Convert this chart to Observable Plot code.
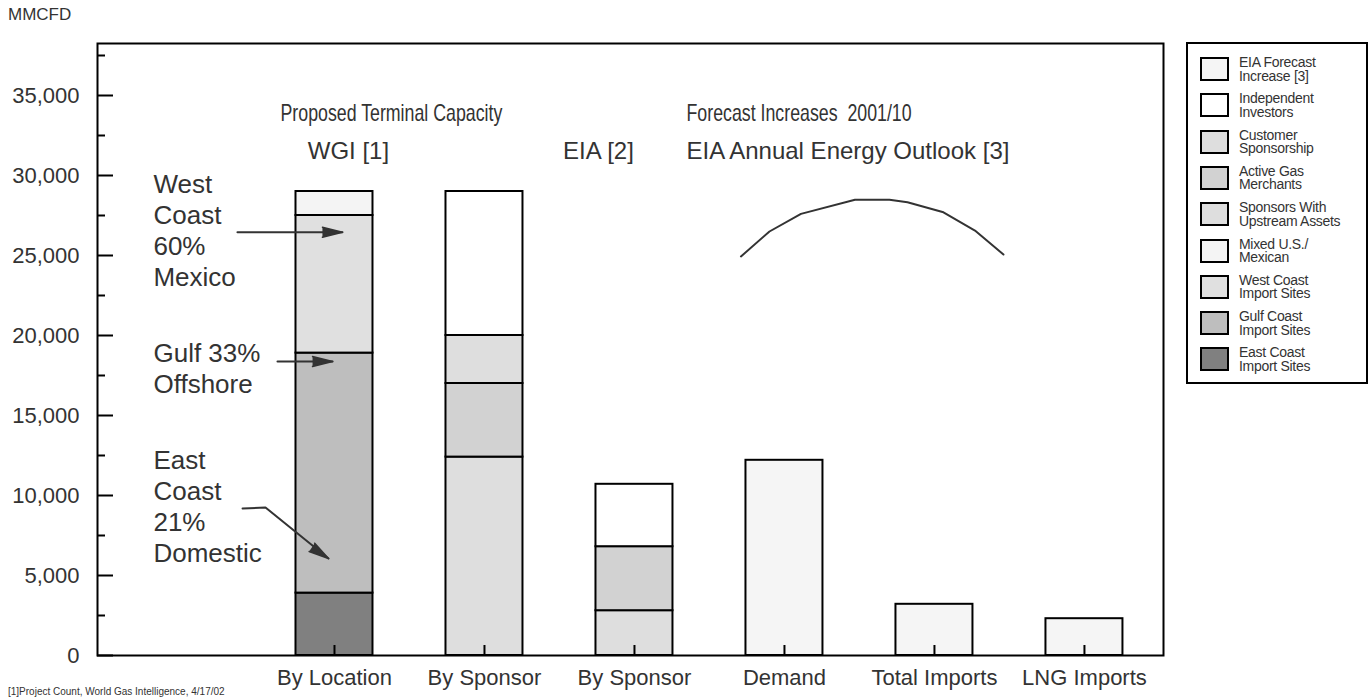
<!DOCTYPE html>
<html><head><meta charset="utf-8">
<script src="https://cdn.jsdelivr.net/npm/d3@7"></script>
<script src="https://cdn.jsdelivr.net/npm/@observablehq/plot@0.6"></script>
<style>
body{margin:0;background:#fff;font-family:"Liberation Sans",Arial,sans-serif;}
#wrap{position:relative;width:1372px;height:698px;overflow:hidden;}
#chart{position:absolute;left:0;top:0;}
#unit{position:absolute;left:8px;top:5px;font-size:17px;color:#333;}
#legend{position:absolute;left:1186px;top:42px;width:178px;height:338px;border:2px solid #000;}
.row{position:absolute;left:12px;}
.sw{position:absolute;left:0;top:0;width:25px;height:20px;border:2px solid #000;}
.lab{position:absolute;left:39px;top:-1px;font-size:14px;line-height:13.5px;color:#333;white-space:nowrap;letter-spacing:-0.3px;}
#note{position:absolute;left:8px;top:686px;font-size:10px;line-height:11px;color:#333;white-space:nowrap;}
</style></head><body>
<div id="wrap"><div id="chart"></div><div id="unit">MMCFD</div><div id="legend"></div><div id="note">[1]Project Count, World Gas Intelligence, 4/17/02</div></div>
<script>
// ---- data ----
const series = ["East Coast Import Sites","Gulf Coast Import Sites","West Coast Import Sites","Mixed U.S./Mexican","Sponsors With Upstream Assets","Active Gas Merchants","Customer Sponsorship","Independent Investors","EIA Forecast Increase [3]"];
const seriesColors = ["#808080","#bebebe","#e0e0e0","#f4f4f4","#dedede","#d2d2d2","#dedede","#ffffff","#f5f5f5"];
const legendLabels = [["East Coast","Import Sites"],["Gulf Coast","Import Sites"],["West Coast","Import Sites"],["Mixed U.S./","Mexican"],["Sponsors With","Upstream Assets"],["Active Gas","Merchants"],["Customer","Sponsorship"],["Independent","Investors"],["EIA Forecast","Increase [3]"]];

const xLabels = ["By Location","By Sponsor","By Sponsor","Demand","Total Imports","LNG Imports"];
const xSlots = [1,2,3,4,5,6];

const locationSeries = ["East Coast Import Sites","Gulf Coast Import Sites","West Coast Import Sites","Mixed U.S./Mexican"];
const locationValues = [3900, 15000, 8600, 1500];
const wgiSponsorSeries = ["Sponsors With Upstream Assets","Active Gas Merchants","Customer Sponsorship","Independent Investors"];
const wgiSponsorValues = [12400, 4600, 3000, 9000];
const eiaSponsorSeries = ["Sponsors With Upstream Assets","Active Gas Merchants","Independent Investors"];
const eiaSponsorValues = [2800, 4000, 3900];
const forecastValues = [12200, 3200, 2300]; // Demand, Total Imports, LNG Imports

const arcX = [3.71, 3.90, 4.11, 4.47, 4.70, 4.82, 5.06, 5.27, 5.46];
const arcY = [24940, 26500, 27600, 28480, 28480, 28330, 27700, 26560, 25060];

const yTicks = [0,5000,10000,15000,20000,25000,30000,35000];

// annotations
const titlesTop = [
  {text:"Proposed Terminal Capacity", x:0.64, y:33875},
  {text:"Forecast Increases  2001/10", x:3.347, y:33875}
];
const titlesStart = [
  {text:"EIA Annual Energy Outlook [3]", x:3.347, y:31500}
];
const titlesMiddle = [
  {text:"WGI [1]", x:1.093, y:31500},
  {text:"EIA [2]", x:2.76, y:31500}
];
const noteBlocks = [
  {text:"West\nCoast\n60%\nMexico", x:-0.207, y:26594},
  {text:"Gulf 33%\nOffshore", x:-0.207, y:17969},
  {text:"East\nCoast\n21%\nDomestic", x:-0.207, y:9375}
];
const arrowPaths = [
  {id:"w", x:0.353, y:26456},{id:"w", x:1.053, y:26456},
  {id:"g", x:0.62, y:18375},{id:"g", x:0.987, y:18375},
  {id:"e", x:0.387, y:9187},{id:"e", x:0.54, y:9250},{id:"e", x:0.96, y:6062}
];
const arrowHeads = [
  {x:1.053, y:26456, angle:90},
  {x:0.987, y:18375, angle:90},
  {x:0.96, y:6062, angle:124}
];

// ---- build stacked rows ----
function stack(slot, names, values){
  let acc = 0;
  return names.map((s,i)=>{const r={slot, series:s, y1:acc, y2:acc+values[i]}; acc+=values[i]; return r;});
}
const rows = [
  ...stack(1, locationSeries, locationValues),
  ...stack(2, wgiSponsorSeries, wgiSponsorValues),
  ...stack(3, eiaSponsorSeries, eiaSponsorValues),
  ...forecastValues.flatMap((v,i)=>stack(4+i, ["EIA Forecast Increase [3]"], [v]))
];

const W=1372, H=698, mL=97, mR=209, mT=43, mB=43;
const plotW = W-mL-mR, plotH = H-mT-mB;
const font = "'Liberation Sans', Arial, sans-serif";

const chart = Plot.plot({
  width: W, height: H, marginLeft: mL, marginRight: mR, marginTop: mT, marginBottom: mB,
  style: {fontFamily: font, color: "#333", background: "transparent", fontSize: "21px"},
  x: {domain: [-0.58, 6.527], axis: null},
  y: {domain: [0, 38250], axis: null},
  color: {domain: series, range: seriesColors},
  marks: [
    Plot.rect(rows, {x1: d=>d.slot-0.5, x2: d=>d.slot+0.5, y1:"y1", y2:"y2", fill:"series", stroke:"#000", strokeWidth:2, insetLeft:36.5, insetRight:36.5}),
    Plot.tickX(xSlots, {x: d=>d, insetTop: plotH-10, stroke:"#000", strokeWidth:2}),
    Plot.tickY(yTicks, {y: d=>d, insetRight: plotW-16, stroke:"#000", strokeWidth:2}),
    Plot.tickY(yTicks.map(d=>d+2500), {y: d=>d, insetRight: plotW-8, stroke:"#000", strokeWidth:2}),
    Plot.axisX({ticks: xSlots, tickFormat: i=>xLabels[i-1], tickSize:0, tickPadding:14, fontSize:22, fill:"#333", label:null}),
    Plot.axisY({ticks: yTicks, tickFormat: d3.format(","), tickSize:0, tickPadding:18, fontSize:22, fill:"#333", label:null}),
    Plot.line(arcX.map((x,i)=>({x, y:arcY[i]})), {x:"x", y:"y", stroke:"#333", strokeWidth:2}),
    Plot.text(titlesTop, {x:"x", y:"y", text:"text", textAnchor:"start", fontSize:24, fill:"#333"}),
    Plot.text(titlesStart, {x:"x", y:"y", text:"text", textAnchor:"start", fontSize:24, fill:"#333"}),
    Plot.text(titlesMiddle, {x:"x", y:"y", text:"text", textAnchor:"middle", fontSize:24, fill:"#333"}),
    Plot.text(noteBlocks, {x:"x", y:"y", text:"text", textAnchor:"start", fontSize:26, lineHeight:1.19, fill:"#333"}),
    Plot.line(arrowPaths, {x:"x", y:"y", z:"id", stroke:"#333", strokeWidth:2}),
    Plot.vector(arrowHeads, {x:"x", y:"y", rotate:"angle", length:20, r:5, shape:"spike", anchor:"end", fill:"#333", stroke:"#333"}),
    Plot.frame({stroke:"#000", strokeWidth:2})
  ]
});
document.getElementById("chart").appendChild(chart);

// condensed look for the first title line (reference uses a narrow face)
const narrowTexts = new Set(titlesTop.map(d => d.text));
chart.querySelectorAll("text").forEach(t => {
  if (!narrowTexts.has(t.textContent)) return;
  const w = t.getComputedTextLength();
  if (w > 0) {
    t.setAttribute("textLength", (w * 0.74).toFixed(1));
    t.setAttribute("lengthAdjust", "spacingAndGlyphs");
  }
});

// ---- legend (HTML) ----
const legend = document.getElementById("legend");
series.map((s,i)=>i).reverse().forEach((i,k)=>{
  const row = document.createElement("div");
  row.className = "row";
  row.style.top = (13 + k*36.3) + "px";
  const sw = document.createElement("div");
  sw.className = "sw";
  sw.style.background = seriesColors[i];
  const lab = document.createElement("div");
  lab.className = "lab";
  lab.innerHTML = legendLabels[i].join("<br>");
  row.appendChild(sw); row.appendChild(lab);
  legend.appendChild(row);
});
</script>
</body></html>
